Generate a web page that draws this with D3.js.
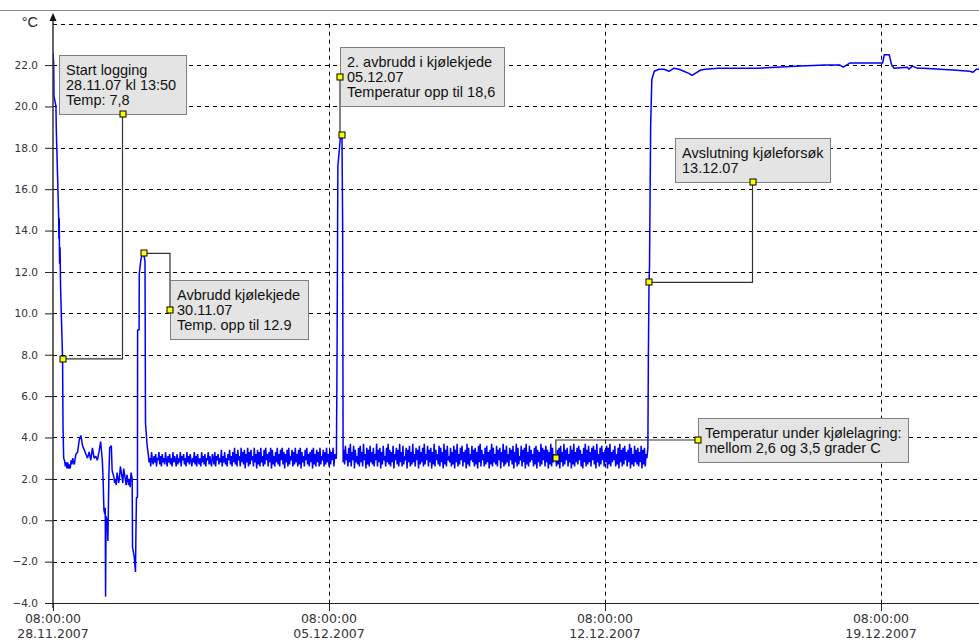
<!DOCTYPE html>
<html>
<head>
<meta charset="utf-8">
<script src="https://cdn.jsdelivr.net/npm/d3@7"></script>
<style>
  body { margin: 0; background: #fff; }
  svg { display: block; }
</style>
</head>
<body>
<svg id="chart" width="979" height="641"></svg>
<script>
// Logger readings: hours after 28.11.2007 08:00, temperature in °C
const loggerStart = new Date(2007, 10, 28, 8, 0);

const yTickValues = [-4, -2, 0, 2, 4, 6, 8, 10, 12, 14, 16, 18, 20, 22];
const yUnitLabel = "°C";
const xTickDays = ["2007-11-28", "2007-12-05", "2007-12-12", "2007-12-19"];
const xTickTime = "08:00:00";
const xTickDates = ["28.11.2007", "05.12.2007", "12.12.2007", "19.12.2007"];

// Cool-down after start and the first break in the cold chain
const cooldownReadings = [
  [0, 22.6], [0.4, 22.1], [0.6, 20.5], [1.8, 20.0], [2.0, 18.9], [3.4, 14.8],
  [3.6, 13.6], [3.8, 14.6], [4.0, 12.4], [4.3, 13.2], [4.6, 11.3], [5.83, 7.8],
  [6.1, 4.5], [6.5, 3.0], [7, 2.9], [7.5, 2.6], [8, 2.8], [8.5, 2.5], [9, 2.8],
  [9.5, 2.5], [10, 2.7], [10.5, 2.5], [11, 2.9], [11.5, 2.7], [12, 3.0],
  [12.5, 2.8], [13, 2.7], [13.5, 3.0], [14, 3.2], [15, 3.3],
  [16, 3.9], [17, 4.1], [18, 3.6], [19, 3.4], [20, 3.2], [21, 3.0], [22, 3.3],
  [23, 2.9], [24, 3.5], [25, 3.0], [26, 3.1], [27, 2.9], [28, 3.3], [29, 3.8],
  [30, 2.9], [30.5, 2.0], [31, 0.5], [31.5, 0.3], [31.8, 0.6], [32, -3.7],
  [32.3, 0.2], [32.7, -0.3], [33, 0.1], [33.4, -1.0], [34, 2.1], [34.5, 3.5],
  [35.5, 3.6], [36, 2.4], [37, 2.1], [37.5, 1.8], [38, 2.0], [38.5, 1.7],
  [39, 2.3], [40, 1.8], [40.5, 2.1], [41, 2.6], [42, 2.1], [42.5, 1.8],
  [43, 2.5], [44, 2.0], [44.5, 1.7], [45, 2.2], [46, 1.7], [46.5, 2.0],
  [47, 1.6], [47.5, 2.3], [48.2, 2.0], [48.4, -1.3], [49.5, -1.8], [50.2, -2.5],
  [50.5, -0.5], [50.8, 1.1], [51.4, 1.1], [51.5, 9.2], [52.4, 9.2], [52.5, 11.9],
  [53.5, 12.6], [54.5, 12.9], [55.2, 12.9], [56.0, 12.5], [56.3, 4.7], [57.3, 3.6]
];

// Half-hourly readings in the cold store, first period (from hour 58)
const storageStartA = 58;
const storageTempsA = [
  3.2, 2.8, 3.0, 2.6, 3.3, 2.9, 2.7, 3.1, 2.8, 3.2, 2.6, 3.0, 2.9, 3.3, 2.7, 3.1, 2.6, 3.2, 2.8, 3.0,
  2.7, 3.3, 2.9, 2.6, 3.1, 2.8, 3.2, 2.7, 3.0, 2.6, 3.3, 2.8, 3.1, 2.9, 2.6, 3.2, 2.7, 3.0, 2.8, 3.3,
  2.6, 3.1, 2.9, 3.2, 2.7, 3.0, 2.6, 3.3, 2.8, 3.1, 2.7, 3.2, 2.9, 2.6, 3.0, 2.8, 3.3, 2.7, 3.1, 2.6,
  3.2, 2.9, 2.7, 3.0, 2.6, 3.3, 2.8, 3.1, 2.7, 3.2, 2.6, 3.0, 2.9, 3.3, 2.7, 3.1, 2.8, 2.6, 3.2, 3.0,
  2.7, 3.3, 2.6, 3.1, 2.9, 3.2, 2.7, 3.0, 2.8, 3.4, 2.6, 3.1, 2.8, 3.3, 2.7, 3.0, 2.6, 3.2, 2.9, 3.4,
  2.7, 3.1, 2.6, 3.3, 2.8, 3.5, 2.7, 3.2, 2.6, 3.4, 2.9, 3.1, 2.6, 3.5, 2.8, 3.3, 2.7, 3.4, 2.5, 3.2,
  2.8, 3.5, 2.6, 3.3, 2.7, 3.4, 2.9, 3.1, 2.6, 3.5, 2.8, 3.2, 2.5, 3.4, 2.7, 3.3, 2.6, 3.5, 2.8, 3.1,
  2.6, 3.4, 2.7, 3.5, 2.9, 3.2, 2.6, 3.3, 2.8, 3.5, 2.5, 3.4, 2.7, 3.1, 2.6, 3.3, 2.8, 3.5, 2.7, 3.2,
  2.6, 3.4, 2.9, 3.5, 2.7, 3.3, 2.5, 3.2, 2.8, 3.4, 2.6, 3.5, 2.7, 3.1, 2.9, 3.4, 2.6, 3.3, 2.7, 3.5,
  2.8, 3.2, 2.6, 3.4, 2.7, 3.5, 2.5, 3.3, 2.8, 3.1, 2.6, 3.4, 2.9, 3.5, 2.7, 3.2, 2.6, 3.3, 2.8, 3.4,
  2.5, 3.5, 2.7, 3.2, 2.6, 3.4, 2.8, 3.3, 2.6, 3.5, 2.7, 3.1, 2.9, 3.4, 2.6, 3.3, 2.7, 3.5, 2.8, 3.2,
  2.6, 3.4, 2.7, 3.3, 2.9, 3.5, 2.6, 3.2, 3.0
];

// Second break in the cold chain
const secondBreakReadings = [
  [172.5, 3.0], [172.9, 8.0], [173.4, 17.1], [174.8, 18.4], [175.9, 18.6],
  [176.3, 14.3], [176.6, 2.8]
];

// Half-hourly readings in the cold store, second period (from hour 177)
const storageStartB = 177;
const storageTempsB = [
  3.4, 2.7, 3.6, 2.9, 3.2, 2.6, 3.5, 2.8, 3.7, 2.6, 3.3, 2.9, 3.6, 2.5, 3.4, 2.8, 3.1, 2.7, 3.5, 2.6,
  3.6, 2.8, 3.3, 2.6, 3.7, 2.9, 3.2, 2.5, 3.5, 2.7, 3.4, 2.6, 3.6, 2.8, 3.3, 2.7, 3.5, 2.6, 3.2, 2.9,
  3.7, 2.6, 3.4, 2.8, 3.5, 2.5, 3.3, 2.7, 3.6, 2.9, 3.1, 2.6, 3.5, 2.8, 3.7, 2.7, 3.4, 2.6, 3.3, 2.8,
  3.6, 2.5, 3.2, 2.9, 3.5, 2.7, 3.4, 2.6, 3.7, 2.8, 3.3, 2.6, 3.6, 2.7, 3.1, 2.9, 3.5, 2.5, 3.4, 2.8,
  3.6, 2.6, 3.3, 2.7, 3.7, 2.8, 3.2, 2.6, 3.5, 2.9, 3.4, 2.5, 3.6, 2.7, 3.3, 2.8, 3.5, 2.6, 3.7, 2.7,
  3.2, 2.9, 3.6, 2.6, 3.4, 2.8, 3.5, 2.5, 3.3, 2.7, 3.7, 2.6, 3.4, 2.9, 3.2, 2.7, 3.6, 2.6, 3.5, 2.8,
  3.3, 2.5, 3.7, 2.7, 3.4, 2.6, 3.6, 2.9, 3.1, 2.8, 3.5, 2.6, 3.3, 2.7, 3.6, 2.5, 3.4, 2.8, 3.7, 2.6,
  3.2, 2.7, 3.5, 2.9, 3.6, 2.6, 3.3, 2.8, 3.4, 2.5, 3.7, 2.7, 3.5, 2.6, 3.2, 2.9, 3.6, 2.8, 3.4, 2.6,
  3.5, 2.7, 3.3, 2.5, 3.6, 2.8, 3.7, 2.6, 3.4, 2.9, 3.2, 2.6, 3.5, 2.7, 3.6, 2.8, 3.3, 2.5, 3.4, 2.7,
  3.7, 2.6, 3.5, 2.8, 3.2, 2.7, 3.6, 2.6, 3.4, 2.9, 3.5, 2.5, 3.3, 2.8, 3.7, 2.6, 3.4, 2.7, 3.6, 2.8,
  3.2, 2.6, 3.5, 2.9, 3.4, 2.7, 3.6, 2.5, 3.3, 2.8, 3.7, 2.6, 3.5, 2.7, 3.1, 2.9, 3.6, 2.6, 3.4, 2.8,
  3.5, 2.5, 3.7, 2.7, 3.3, 2.6, 3.6, 2.8, 3.4, 2.9, 3.2, 2.6, 3.5, 2.7, 3.6, 2.5, 3.4, 2.8, 3.3, 2.6,
  3.7, 2.7, 3.5, 2.9, 3.4, 2.6, 3.6, 2.8, 3.4, 2.5, 3.3, 2.7, 3.7, 2.6, 3.5, 2.8, 3.2, 2.9, 3.0, 2.6,
  3.4, 2.7, 3.5, 2.5, 3.6, 2.8, 3.3, 2.6, 3.7, 2.7, 3.4, 2.9, 3.5, 2.6, 3.2, 2.8, 3.6, 2.5, 3.4, 2.7,
  3.7, 2.6, 3.3, 2.8, 3.5, 2.7, 3.6, 2.9, 3.4, 2.6, 3.2, 2.5, 3.5, 2.8, 3.7, 2.6, 3.4, 2.7, 3.6, 2.8,
  3.3, 2.6, 3.5, 2.9, 3.6, 2.7, 3.4, 2.5, 3.7, 2.8, 3.2, 2.6, 3.5, 2.7, 3.6, 2.9, 3.3, 2.6, 3.4, 2.8,
  3.6, 2.5, 3.5, 2.7, 3.7, 2.6, 3.3, 2.8, 3.4, 2.9, 3.6, 2.6, 3.2, 2.7, 3.5, 2.5, 3.7, 2.8, 3.4, 2.6,
  3.5, 2.7, 3.6, 2.9, 3.3, 2.6, 3.4, 2.8, 3.7, 2.5, 3.5, 2.7, 3.2, 2.6, 3.6, 2.8, 3.4, 2.7, 3.5, 2.6,
  3.3, 2.8, 3.6, 2.5, 3.4, 2.7, 3.5, 2.6, 3.2, 3.0
];

// End of the cooling test: back to room temperature
const endReadings = [
  [362.1, 3.5], [362.4, 7.9], [362.8, 11.5], [363.1, 12.3], [363.8, 19.1],
  [364.5, 21.3], [366, 21.7], [369, 21.8], [372, 21.8], [375, 21.7],
  [378, 21.85], [381, 21.8], [384, 21.7], [387, 21.6], [389, 21.5],
  [391, 21.6], [394, 21.75], [397, 21.8], [405, 21.85], [420, 21.85],
  [430, 21.85], [440, 21.9], [455, 21.95], [470, 22.0], [479, 22.0],
  [481, 21.9], [483, 22.0], [485, 22.1], [500, 22.1], [505, 22.1],
  [506, 22.5], [509, 22.5], [510.5, 22.0], [512, 21.85], [520, 21.9],
  [521, 21.8], [523, 21.95], [526, 21.85], [530, 21.85], [540, 21.8],
  [550, 21.75], [558, 21.7], [560, 21.65], [562, 21.8], [566, 21.8]
];

// Callouts
const notes = [
  { lines: ["Start logging", "28.11.07 kl 13:50", "Temp: 7,8"], hour: 5.83, temp: 7.8 },
  { lines: ["Avbrudd kjølekjede", "30.11.07", "Temp. opp til 12.9"], hour: 55.2, temp: 12.9 },
  { lines: ["2. avbrudd i kjølekjede", "05.12.07", "Temperatur opp til 18,6"], hour: 175.9, temp: 18.6 },
  { lines: ["Avslutning kjøleforsøk", "13.12.07"], hour: 362.8, temp: 11.5 },
  { lines: ["Temperatur under kjølelagring:", "mellom 2,6 og 3,5 grader C"], hour: 306.1, temp: 3.0 }
];

// ---- assemble series ----
const hourMs = 3600 * 1000;
const atHour = h => new Date(loggerStart.getTime() + h * hourMs);
const readings = []
  .concat(cooldownReadings)
  .concat(storageTempsA.map((t, i) => [storageStartA + i * 0.5, t]))
  .concat(secondBreakReadings)
  .concat(storageTempsB.map((t, i) => [storageStartB + i * 0.5, t]))
  .concat(endReadings)
  .sort((a, b) => a[0] - b[0])
  .map(([h, t]) => ({ date: atHour(h), temp: t }));

// ---- layout ----
const W = 979, H = 641;
const left = 53, bottom = 603, right = W;
const svg = d3.select("#chart");

const x = d3.scaleTime()
  .domain([loggerStart, d3.timeDay.offset(loggerStart, 21)])
  .range([left, 881]);
const y = d3.scaleLinear().domain([-4, 24]).range([bottom, 23.7]);

const axisFont = "DejaVu Sans, Verdana, sans-serif";
const noteFont = "Liberation Sans, Arial, sans-serif";

// frame line at the top
svg.append("line")
  .attr("x1", 0).attr("x2", W).attr("y1", 10.5).attr("y2", 10.5)
  .attr("stroke", "#8c8c8c").attr("stroke-width", 1);

// grid
const grid = svg.append("g").attr("stroke", "#000").attr("stroke-width", 1)
  .attr("stroke-dasharray", "4,4").attr("fill", "none");
grid.selectAll("line.h")
  .data(yTickValues.filter(v => v > -4).concat([24]))
  .join("line").attr("class", "h")
  .attr("x1", left).attr("x2", right)
  .attr("y1", d => Math.round(y(d)) + 0.5).attr("y2", d => Math.round(y(d)) + 0.5);
const tickDays = xTickDays.map(s => {
  const [yy, mm, dd] = s.split("-").map(Number);
  return new Date(yy, mm - 1, dd, 8, 0);
});
grid.selectAll("line.v")
  .data(tickDays.slice(1))
  .join("line").attr("class", "v")
  .attr("x1", d => Math.round(x(d)) + 0.5).attr("x2", d => Math.round(x(d)) + 0.5)
  .attr("y1", y(24)).attr("y2", bottom);

// data line
svg.append("clipPath").attr("id", "plot")
  .append("rect").attr("x", left).attr("y", 0).attr("width", right - left).attr("height", bottom);
svg.append("path")
  .datum(readings)
  .attr("clip-path", "url(#plot)")
  .attr("fill", "none")
  .attr("stroke", "#0000ff")
  .attr("stroke-width", 1.5)
  .attr("stroke-linejoin", "bevel")
  .attr("d", d3.line().x(d => x(d.date)).y(d => y(d.temp)));

// y axis
const yAxis = svg.append("g")
  .attr("transform", `translate(${left},0)`)
  .call(d3.axisLeft(y).tickValues(yTickValues.concat([24])).tickSize(8).tickPadding(7)
    .tickFormat(d => d === 24 ? yUnitLabel : d3.format(".1f")(d)));
yAxis.select(".domain").remove();
yAxis.selectAll(".tick line").attr("stroke", "#222");
yAxis.selectAll(".tick text")
  .attr("font-family", axisFont).attr("font-size", 10.5).attr("fill", "#333");
yAxis.selectAll(".tick text").filter(d => d === 24)
  .attr("font-family", noteFont).attr("font-size", 14.5).attr("fill", "#222")
  .attr("dy", "0.2em");
yAxis.selectAll(".tick line").filter(d => d === 24).remove();

svg.append("line")
  .attr("x1", left).attr("x2", left).attr("y1", 16).attr("y2", bottom + 5)
  .attr("stroke", "#333").attr("stroke-width", 1.5);
svg.append("path")
  .attr("d", `M${left},13 L${left - 3.5},21 L${left + 3.5},21 Z`)
  .attr("fill", "#111");

// x axis
const xAxis = svg.append("g")
  .attr("transform", `translate(0,${bottom})`)
  .call(d3.axisBottom(x).tickValues(tickDays).tickSize(8).tickFormat(() => ""));
xAxis.select(".domain")
  .attr("d", `M${left - 8},0.5H${right}`).attr("stroke", "#222");
xAxis.selectAll(".tick line").attr("stroke", "#222");
xAxis.selectAll(".tick text").remove();
const xLabels = svg.append("g")
  .attr("font-family", axisFont).attr("font-size", 12.5).attr("fill", "#333")
  .attr("text-anchor", "middle");
tickDays.forEach((d, i) => {
  const t = xLabels.append("text").attr("x", x(d)).attr("y", 623);
  t.append("tspan").attr("x", x(d)).attr("y", 623).text(xTickTime);
  t.append("tspan").attr("x", x(d)).attr("y", 638).text(xTickDates[i]);
});

// callouts: box placement and leader routing
const boxes = [
  { x: 59,  y: 55,  w: 127, anchor: "bottom", route: "vh" },
  { x: 170, y: 280, w: 138, anchor: "left",   route: "vh" },
  { x: 340, y: 47,  w: 164, anchor: "left",   route: "vh" },
  { x: 675, y: 138, w: 155, anchor: "bottom", route: "vh" },
  { x: 698, y: 418, w: 210, anchor: "left",   route: "hv" }
];
const lineGap = 15;
const marker = (g, px, py) => g.append("rect")
  .attr("x", Math.round(px) - 3).attr("y", Math.round(py) - 3)
  .attr("width", 6).attr("height", 6)
  .attr("fill", "#ffff00").attr("stroke", "#000").attr("stroke-width", 1);

const callouts = svg.append("g");
notes.forEach((n, i) => {
  const b = boxes[i];
  const h = 14 + lineGap * n.lines.length;
  const dx = x(atHour(n.hour)), dy = y(n.temp);
  const ax = b.anchor === "bottom" ? b.x + b.w / 2 : b.x;
  const ay = b.anchor === "bottom" ? b.y + h : b.y + h / 2;
  const path = b.route === "vh"
    ? `M${ax},${ay}V${dy}H${dx}`
    : `M${ax},${ay}H${dx}V${dy}`;
  callouts.append("path").attr("d", path)
    .attr("fill", "none").attr("stroke", "#333").attr("stroke-width", 1.2);
  callouts.append("rect")
    .attr("x", b.x + 0.5).attr("y", b.y + 0.5).attr("width", b.w).attr("height", h)
    .attr("fill", "#e4e4e4").attr("stroke", "#808080").attr("stroke-width", 1);
  const t = callouts.append("text")
    .attr("font-family", noteFont).attr("font-size", 14.5).attr("fill", "#111");
  n.lines.forEach((ln, k) => {
    t.append("tspan").attr("x", b.x + 7).attr("y", b.y + 20 + k * lineGap).text(ln);
  });
  marker(callouts, ax, ay);
  marker(callouts, dx, dy);
});
</script>
</body>
</html>
